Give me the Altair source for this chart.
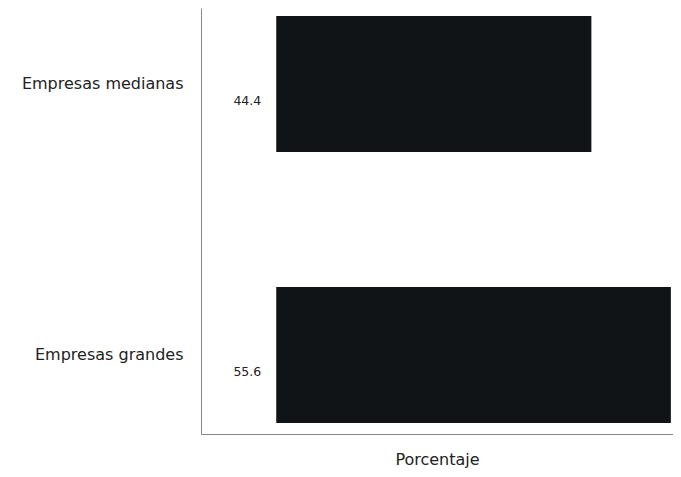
import altair as alt
import pandas as pd

categorias = ["Empresas medianas", "Empresas grandes"]
porcentajes = [44.4, 55.6]

df = pd.DataFrame({"Tamaño": categorias, "Porcentaje": porcentajes})
df["label"] = df["Porcentaje"].map(lambda v: f"{v:.1f}")
df["cero"] = 0

FONT = "DejaVu Sans"

y_enc = alt.Y(
    "Tamaño:N",
    sort=categorias,
    title=None,
    scale=alt.Scale(paddingInner=0.498, paddingOuter=0.035, align=0.42),
    axis=alt.Axis(
        ticks=False,
        labelFontSize=16,
        labelPadding=18,
        labelColor="#222222",
        labelFont=FONT,
        domainColor="#888888",
        grid=False,
        labelLimit=300,
    ),
)

x_scale = alt.Scale(domain=[-10.6, 55.9], nice=False, zero=False)

bars = alt.Chart(df).mark_bar(color="#111417").encode(
    x=alt.X(
        "Porcentaje:Q",
        scale=x_scale,
        title="Porcentaje",
        axis=alt.Axis(
            labels=False,
            ticks=False,
            grid=False,
            domainColor="#888888",
            titleFontSize=16,
            titleFontWeight="normal",
            titleFont=FONT,
            titleColor="#222222",
            titlePadding=17,
        ),
    ),
    x2="cero:Q",
    y=y_enc,
)

text = alt.Chart(df).mark_text(
    align="right", baseline="middle", dx=-15, dy=17, fontSize=12.5, font=FONT, color="#222222"
).encode(
    x=alt.X("cero:Q", scale=x_scale),
    y=alt.Y("Tamaño:N", sort=categorias),
    text="label:N",
)

chart = (
    alt.layer(bars, text)
    .properties(
        width=472,
        height=426,
        autosize=alt.AutoSizeParams(type="none"),
        padding={"left": 193, "top": 0, "right": 0, "bottom": 35},
    )
    .configure_view(stroke=None)
)

chart.save("out.html", embed_options={"renderer": "svg", "actions": False})
